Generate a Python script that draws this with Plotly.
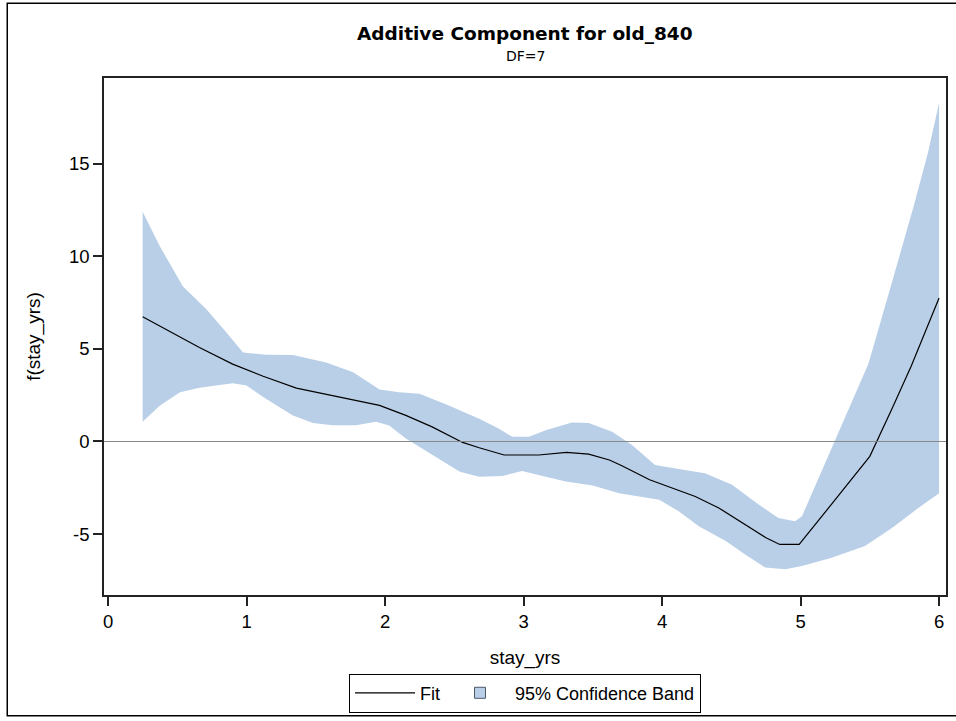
import plotly.graph_objects as go

# ---- data ----
fit_x = [0.25, 0.42, 0.66, 0.90, 1.12, 1.36, 1.58, 1.77, 1.96, 2.15, 2.34, 2.56, 2.68, 2.86,
         3.11, 3.31, 3.47, 3.62, 3.71, 3.91, 4.07, 4.24, 4.41, 4.60, 4.75, 4.85, 4.99, 5.23,
         5.50, 5.66, 5.80, 6.00]
fit_y = [6.74, 6.06, 5.08, 4.18, 3.52, 2.88, 2.54, 2.27, 1.95, 1.41, 0.79, -0.05, -0.34, -0.73,
         -0.73, -0.59, -0.68, -1.00, -1.31, -2.07, -2.52, -2.97, -3.59, -4.49, -5.20, -5.56, -5.56, -3.33,
         -0.80, 1.77, 4.09, 7.75]

upper_x = [0.25, 0.375, 0.54, 0.71, 0.855, 0.975, 1.14, 1.335, 1.575, 1.77, 1.96, 2.10, 2.25,
           2.46, 2.68, 2.82, 2.92, 3.04, 3.16, 3.35, 3.47, 3.64, 3.785, 3.95, 4.12, 4.31, 4.505,
           4.70, 4.84, 4.96, 5.01, 5.15, 5.32, 5.49, 5.66, 5.82, 5.92, 6.00]
upper_y = [12.41, 10.53, 8.39, 7.14, 5.88, 4.81, 4.68, 4.67, 4.27, 3.74, 2.81, 2.66, 2.58,
           1.95, 1.23, 0.70, 0.25, 0.25, 0.61, 1.02, 1.00, 0.52, -0.20, -1.27, -1.49, -1.72, -2.34,
           -3.42, -4.13, -4.31, -4.04, -1.63, 1.23, 4.20, 8.60, 12.80, 15.60, 18.30]

lower_x = [0.25, 0.375, 0.52, 0.66, 0.90, 1.00, 1.14, 1.335, 1.48, 1.62, 1.79, 1.935, 2.03,
           2.15, 2.34, 2.54, 2.68, 2.85, 2.99, 3.16, 3.305, 3.50, 3.69, 3.83, 3.98, 4.12, 4.265,
           4.46, 4.60, 4.745, 4.89, 5.01, 5.225, 5.465, 5.66, 5.85, 6.00]
lower_y = [1.06, 1.95, 2.66, 2.90, 3.15, 3.02, 2.31, 1.41, 1.00, 0.88, 0.88, 1.06, 0.87,
           0.16, -0.73, -1.63, -1.90, -1.86, -1.59, -1.90, -2.16, -2.38, -2.79, -2.97, -3.15, -3.77, -4.58,
           -5.38, -6.10, -6.81, -6.90, -6.72, -6.28, -5.65, -4.67, -3.59, -2.79]

x_tick_vals = [0, 1, 2, 3, 4, 5, 6]
x_tick_text = ["0", "1", "2", "3", "4", "5", "6"]
y_tick_vals = [-5, 0, 5, 10, 15]
y_tick_text = ["-5", "0", "5", "10", "15"]
ref_y = 0

title_text = "Additive Component for old_840"
subtitle_text = "DF=7"
x_title = "stay_yrs"
y_title = "f(stay_yrs)"

BAND = "rgb(185,207,231)"
SANS = "Liberation Sans, Arial, sans-serif"
TITLEFONT = "DejaVu Sans, Verdana, sans-serif"

fig = go.Figure()

# confidence band polygon (upper edge then lower edge reversed)
fig.add_trace(go.Scatter(
    x=upper_x + lower_x[::-1],
    y=upper_y + lower_y[::-1],
    mode="lines", fill="toself", fillcolor=BAND,
    line=dict(width=0, color=BAND),
    hoverinfo="skip", showlegend=False, name="95% Confidence Band"))

fig.add_trace(go.Scatter(
    x=fit_x, y=fit_y, mode="lines", name="Fit",
    line=dict(color="black", width=1.2)))

# legend entry for the band (square swatch)
fig.add_trace(go.Scatter(
    x=[None], y=[None], mode="markers", name="95% Confidence Band",
    marker=dict(symbol="square", size=11, color=BAND,
                line=dict(color="#4a5a6a", width=1))))

fig.update_layout(
    width=956, height=721,
    margin=dict(l=104, r=8, t=78, b=123),
    paper_bgcolor="white", plot_bgcolor="white",
    font=dict(family=SANS, size=18, color="black"),
    showlegend=True,
    legend=dict(orientation="h", x=0.5, xanchor="center", y=-0.152, yanchor="top",
                bordercolor="black", borderwidth=1, bgcolor="white",
                font=dict(family=SANS, size=18), itemwidth=60,
                tracegroupgap=0),
    annotations=[
        dict(text="<b>" + title_text + "</b>", xref="paper", yref="paper", x=0.5, y=1.087,
             xanchor="center", yanchor="middle", showarrow=False,
             font=dict(family=TITLEFONT, size=18.5, color="black")),
        dict(text=subtitle_text, xref="paper", yref="paper", x=0.5, y=1.042,
             xanchor="center", yanchor="middle", showarrow=False,
             font=dict(family=TITLEFONT, size=14, color="black")),
    ],
    shapes=[
        dict(type="rect", xref="paper", yref="paper", x0=-0.1149, x1=1.03, y0=-0.2337, y1=1.1448,
             line=dict(color="black", width=1.5), fillcolor="rgba(0,0,0,0)", layer="below"),
        dict(type="line", xref="paper", yref="y", x0=0, x1=1, y0=ref_y, y1=ref_y,
             line=dict(color="#888", width=1), layer="above"),
    ],
)

fig.update_xaxes(
    range=[-0.029, 6.05], tickvals=x_tick_vals, ticktext=x_tick_text,
    showgrid=False, zeroline=False,
    showline=True, mirror=True, linecolor="#222", linewidth=1.5,
    ticks="outside", ticklen=9, tickwidth=1.5, tickcolor="#222",
    tickfont=dict(family=SANS, size=18.5),
    title=dict(text=x_title, font=dict(family=SANS, size=19), standoff=20))

fig.update_yaxes(
    range=[-8.29, 19.63], tickvals=y_tick_vals, ticktext=y_tick_text,
    showgrid=False, zeroline=False,
    showline=True, mirror=True, linecolor="#222", linewidth=1.5,
    ticks="outside", ticklen=9, tickwidth=1.5, tickcolor="#222",
    tickfont=dict(family=SANS, size=18.5),
    title=dict(text=y_title, font=dict(family=SANS, size=19), standoff=23))

fig.write_html("out.html", config={"displayModeBar": False},
               post_script="document.body.style.margin='0';document.body.style.overflow='hidden';")
